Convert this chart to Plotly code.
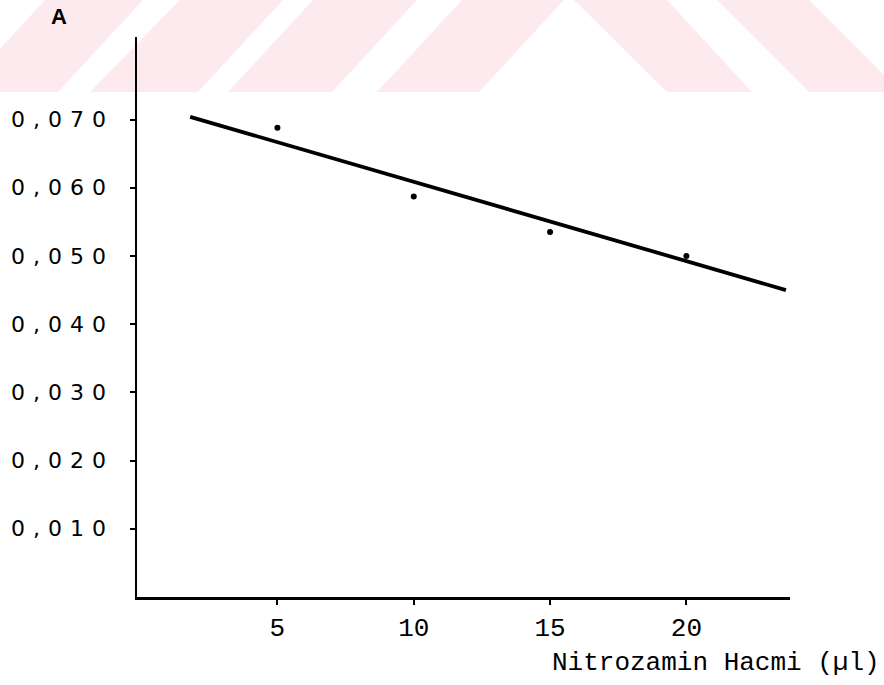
import plotly.graph_objects as go

# ---- data ----
volume = [5, 10, 15, 20]                      # Nitrozamin Hacmi (µl)
absorbance = [0.0688, 0.0587, 0.0535, 0.0500]  # A
fit_x = [1.8, 23.65]                          # regression line ends
fit_y = [0.0704, 0.0450]

x_tickvals = [5, 10, 15, 20]
x_ticktext = ["5", "10", "15", "20"]
y_tickvals = [0.01, 0.02, 0.03, 0.04, 0.05, 0.06, 0.07]
y_ticktext = ["0,010", "0,020", "0,030", "0,040", "0,050", "0,060", "0,070"]

# ---- page geometry (pixels) ----
W, H = 884, 685
L, R, T, B = 137, 790, 37, 597

def px(xp):
    return (xp - L) / (R - L)

def py(yp):
    return (B - yp) / (B - T)

# faint scanned watermark band at top (decoration): polygons in page pixels
band_bottom = 92
stripes = [
    [(45, 0), (143, 0), (58, band_bottom), (-40, band_bottom)],
    [(180, 0), (283, 0), (198, band_bottom), (90, band_bottom)],
    [(313, 0), (417, 0), (332, band_bottom), (228, band_bottom)],
    [(462, 0), (564, 0), (479, band_bottom), (377, band_bottom)],
    [(574, 0), (667, 0), (752, band_bottom), (667, band_bottom)],
    [(717, 0), (809, 0), (901, band_bottom), (809, band_bottom)],
]
shapes = []
for poly in stripes:
    path = "M " + " L ".join(f"{px(a):.5f},{py(b):.5f}" for a, b in poly) + " Z"
    shapes.append(dict(type="path", xref="paper", yref="paper", path=path,
                       fillcolor="#fdeaee", line=dict(width=0), layer="below"))

fig = go.Figure()
fig.add_trace(go.Scatter(x=fit_x, y=fit_y, mode="lines",
                         line=dict(color="black", width=3.8), hoverinfo="skip"))
fig.add_trace(go.Scatter(x=volume, y=absorbance, mode="markers",
                         marker=dict(color="black", size=6)))

fig.update_layout(
    width=W, height=H, autosize=False,
    margin=dict(l=L, r=W - R, t=T, b=H - B, pad=0, autoexpand=False),
    paper_bgcolor="white", plot_bgcolor="rgba(0,0,0,0)",
    showlegend=False,
    shapes=shapes,
    xaxis=dict(range=[-0.15, 23.8], showline=True, linecolor="black", linewidth=2.5,
               ticks="outside", ticklen=5, tickwidth=2, tickcolor="black",
               tickvals=x_tickvals, ticktext=x_ticktext,
               tickfont=dict(family="Liberation Mono", size=26, color="black"),
               ticklabelstandoff=0, automargin=False,
               showgrid=False, zeroline=False),
    yaxis=dict(range=[0, 0.0821], showline=True, linecolor="black", linewidth=2.5,
               ticks="outside", ticklen=5, tickwidth=2, tickcolor="black",
               tickvals=y_tickvals,
               ticktext=[f"<span style='letter-spacing:8px'>{t}</span>" for t in y_ticktext],
               tickfont=dict(family="DejaVu Sans", size=22, color="black"),
               ticklabelstandoff=11, automargin=False,
               showgrid=False, zeroline=False),
    annotations=[
        dict(text="A", x=px(59), y=py(17), xref="paper", yref="paper",
             xanchor="center", yanchor="middle", showarrow=False,
             font=dict(family="Liberation Sans", size=22, color="black", weight="bold")),
        dict(text="Nitrozamin Hacmi (µl)", x=px(882), y=py(663), xref="paper", yref="paper",
             xanchor="right", yanchor="middle", showarrow=False,
             font=dict(family="Liberation Mono", size=26, color="black")),
    ],
)

fig.write_html(
    "out.html",
    config={"displayModeBar": False, "staticPlot": True},
    post_script=("document.body.style.margin='0';"
                 "document.body.style.overflow='hidden';"
                 "var gd=document.getElementById('{plot_id}');"
                 "gd.style.position='absolute';gd.style.left='0px';gd.style.top='0px';"),
)
